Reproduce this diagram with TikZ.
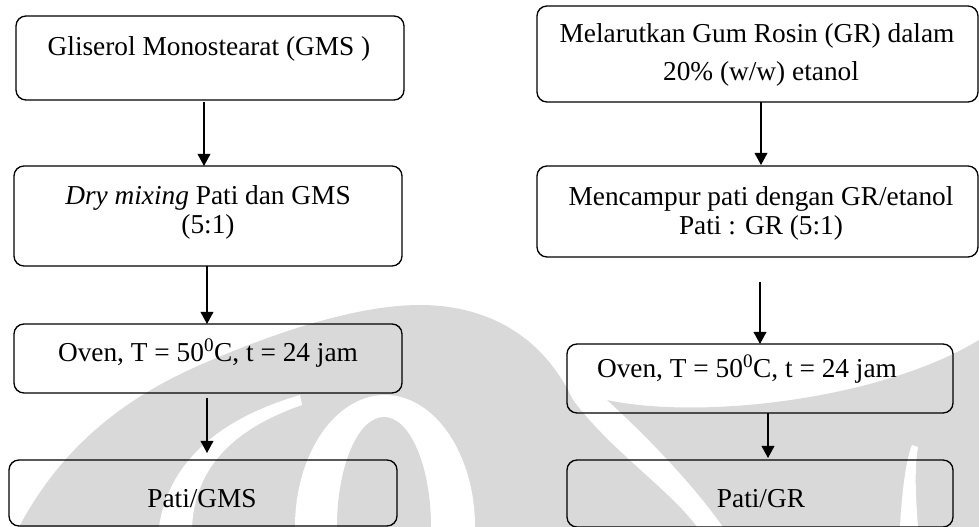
\documentclass[tikz,border=0pt]{standalone}
\usepackage{fontspec}
\setmainfont{Liberation Serif}
\usetikzlibrary{arrows.meta,calc}
\definecolor{wm}{RGB}{217,217,217}
\begin{document}
\begin{tikzpicture}[x=0.75pt,y=-0.75pt,
  box/.style={draw=black,line width=1pt,rounded corners=7.5pt,inner sep=0pt,outer sep=0pt},
  txt/.style={font=\fontsize{20.5}{24}\selectfont,inner sep=0pt,anchor=base},
  arr/.style={draw=black,line width=1pt,-{Triangle[length=9pt,width=9.5pt]}}]
\useasboundingbox (0,0) rectangle (979,527);
% watermark
\begin{scope}
\clip (0,0) rectangle (979,527);
\fill[wm] (19,527) .. controls (60,450) and (120,400) .. (200,365) .. controls (280,330) and (360,305) .. (420,305) .. controls (480,305) and (540,330) .. (573,400) .. controls (610,450) and (670,490) .. (697,527) -- cycle;
\fill[wm] (723,527) .. controls (690,480) and (640,430) .. (607,400) .. controls (700,420) and (880,400) .. (979,340) -- (979,527) -- cycle;
\fill[white] (159,527) .. controls (168,465) and (215,420) .. (300,395) -- (302,405) .. controls (230,430) and (195,470) .. (192,527) -- cycle;
\fill[white] (385,527) ellipse [x radius=67.5pt, y radius=99pt];
\fill[wm] (384,527) ellipse [x radius=35.25pt, y radius=82.5pt];
\fill[white] (900,527) .. controls (902,490) and (906,460) .. (912,445) -- (918,447) .. controls (914,470) and (916,500) .. (918,527) -- cycle;
\end{scope}
% boxes
\node[box,minimum width=291pt,minimum height=63pt] (L1) at (210,58) {};
\node[box,minimum width=291pt,minimum height=75pt] (L2) at (208,216) {};
\node[box,minimum width=291pt,minimum height=51.75pt] (L3) at (208,358.5) {};
\node[box,minimum width=291pt,minimum height=49.5pt] (L4) at (203,493) {};
\node[box,minimum width=330.75pt,minimum height=72pt] (R1) at (757.5,54) {};
\node[box,minimum width=330.75pt,minimum height=68.25pt] (R2) at (757.5,211.5) {};
\node[box,minimum width=289.5pt,minimum height=51.75pt] (R3) at (760,378.5) {};
\node[box,minimum width=289.5pt,minimum height=50.25pt] (R4) at (760,493.5) {};
% texts
\node[txt] (tL1) at (209,56) {Gliserol Monostearat (GMS )};
\node[txt] (tL2a) at (208,205) {\textit{Dry mixing} Pati dan GMS};
\node[txt] (tL2b) at (208,234) {(5:1)};
\node[txt] (tR1a) at (757,43) {Melarutkan Gum Rosin (GR) dalam};
\node[txt] (tR1b) at (761,81) {20\% (w/w) etanol};
\node[txt] (tR2a) at (761,206) {Mencampur pati dengan GR/etanol};
\node[txt] (tR2b) at (761,235) {Pati : GR (5:1)};
\node[txt] (tL3) at (208,362) {Oven, T = 50\textsuperscript{0}C, t = 24 jam};
\node[txt] (tR3) at (747,378) {Oven, T = 50\textsuperscript{0}C, t = 24 jam};
\node[txt] (tL4) at (202,508) {Pati/GMS};
\node[txt] (tR4) at (761,508) {Pati/GR};
% arrows
\draw[arr] ($(L1.south)+(-6,2)$) -- ($(L1.south |- L2.north)+(-6,0)$);
\draw[arr] ($(L2.south)+(-1,0)$) -- ($(L2.south |- L3.north)+(-1,0)$);
\draw[arr] ($(L3.south)+(-1,5)$) -- ($(L3.south |- L4.north)+(-1,-7)$);
\draw[arr] ($(R1.south)+(3.5,0)$) -- ($(R1.south |- R2.north)+(3.5,-1)$);
\coordinate (c2) at (760,282);
\draw[arr] (c2) -- (c2 |- R3.north);
\draw[arr] ($(R3.south)+(8,0)$) -- ($(R3.south |- R4.north)+(8,-2)$);
\end{tikzpicture}
\end{document}
